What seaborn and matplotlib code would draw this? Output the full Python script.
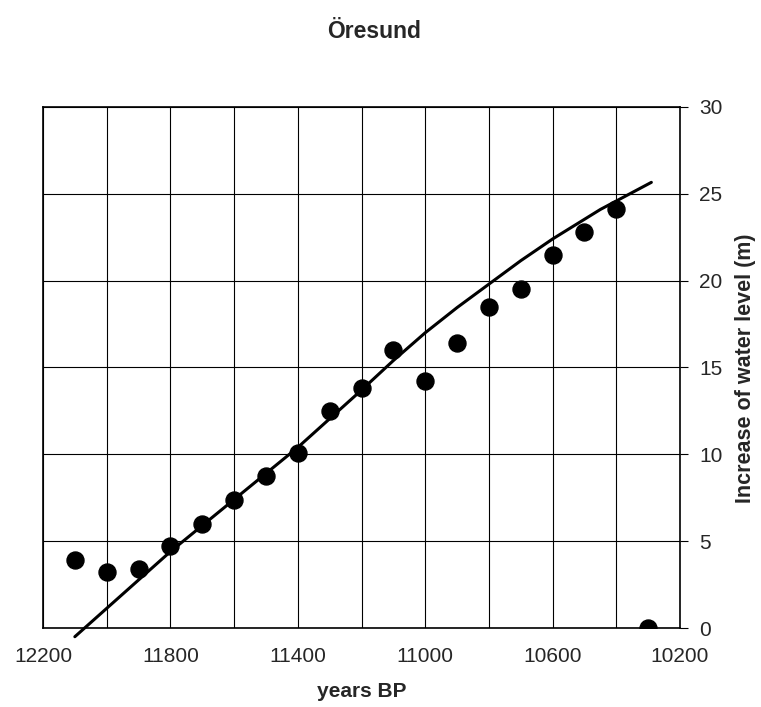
import numpy as np
import pandas as pd
import seaborn as sns
import matplotlib.pyplot as plt

# observed water level increase (dots)
years = [12100, 12000, 11900, 11800, 11700, 11600, 11500, 11400, 11300,
         11200, 11100, 11000, 10900, 10800, 10700, 10600, 10500, 10400, 10300]
level = [3.9, 3.2, 3.4, 4.7, 6.0, 7.4, 8.75, 10.1, 12.5,
         13.8, 16.0, 14.2, 16.4, 18.5, 19.5, 21.5, 22.8, 24.1, 0.0]

# fitted trend curve
fit_years = [12100, 11950, 11800, 11600, 11400, 11200, 11100, 11000, 10900,
             10800, 10700, 10600, 10450, 10290]
fit_level = [-0.5, 1.95, 4.4, 7.4, 10.4, 13.7, 15.4, 17.0, 18.45,
             19.8, 21.15, 22.4, 24.1, 25.66]

y_ticks = [0, 5, 10, 15, 20, 25, 30]
x_ticks = [12200, 11800, 11400, 11000, 10600, 10200]

pts = pd.DataFrame({"year": years, "level": level})
fit = pd.DataFrame({"year": fit_years, "level": fit_level})

sns.set_style("white")
plt.rcParams["font.family"] = ["Liberation Sans", "DejaVu Sans"]

fig = plt.figure(figsize=(7.61, 7.07), dpi=100)
ax = fig.add_axes([0.0565, 0.1117, 0.8371, 0.737])

sns.lineplot(data=fit, x="year", y="level", sort=False, color="black",
             linewidth=2.2, ax=ax, clip_on=False, zorder=3)
sns.scatterplot(data=pts, x="year", y="level", color="black", s=150,
                edgecolor="black", ax=ax, zorder=4)

ax.set_xlim(12200, 10200)
ax.set_ylim(0, 30)
ax.set_xticks(x_ticks)
ax.set_xticks(np.arange(12200, 10199, -200), minor=True)
ax.set_yticks(y_ticks)
ax.grid(True, which="both", color="black", linewidth=0.8)
ax.yaxis.tick_right()
ax.tick_params(axis="both", which="major", direction="out", length=6,
               width=0.8, color="black", labelsize=15, pad=8)
ax.tick_params(axis="x", which="minor", length=0)
for s in ax.spines.values():
    s.set_color("black")
    s.set_linewidth(1.2)

ax.set_xlabel("")
ax.set_ylabel("")
fig.text(0.475, 0.022, "years BP", ha="center", va="center", fontsize=15, fontweight="bold")
fig.text(0.979, 0.479, "Increase of water level (m)", ha="center", va="center",
         rotation=90, fontsize=15.5, fontweight="bold")
fig.text(0.492, 0.955, "Öresund", ha="center", va="center", fontsize=16.5, fontweight="bold")

fig.savefig("out.png", dpi=100)
